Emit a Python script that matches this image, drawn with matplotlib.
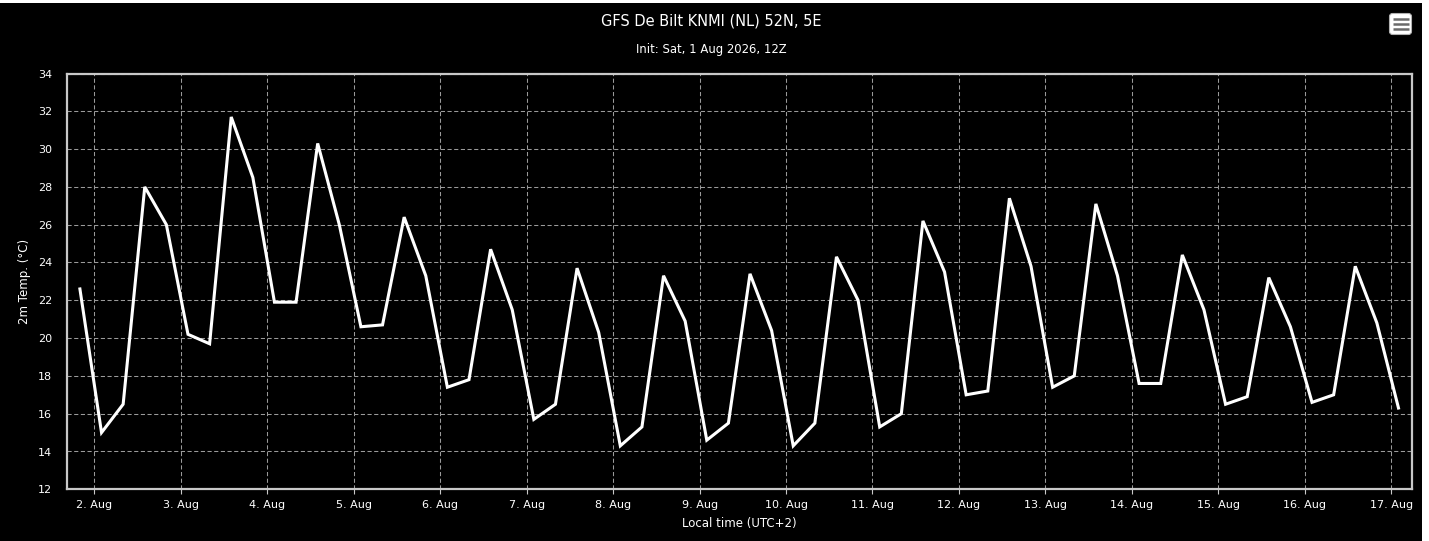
import matplotlib
matplotlib.use("Agg")
import matplotlib.pyplot as plt
import matplotlib.dates as mdates
from matplotlib.patches import Rectangle, FancyBboxPatch
from matplotlib.ticker import FuncFormatter
import numpy as np
from datetime import datetime, timedelta

title = "GFS De Bilt KNMI (NL) 52N, 5E"
subtitle = "Init: Sat, 1 Aug 2026, 12Z"
xlabel = "Local time (UTC+2)"
ylabel = "2m Temp. (°C)"

start_time = datetime(2026, 8, 1, 20, 0)
step_hours = 6
temps = [22.6, 15.0, 16.5, 28.0, 26.0, 20.2, 19.7, 31.7, 28.5, 21.9, 21.9,
         30.3, 26.0, 20.6, 20.7, 26.4, 23.3, 17.4, 17.8, 24.7, 21.5, 15.7,
         16.5, 23.7, 20.3, 14.3, 15.3, 23.3, 20.9, 14.6, 15.5, 23.4, 20.4,
         14.3, 15.5, 24.3, 22.0, 15.3, 16.0, 26.2, 23.5, 17.0, 17.2, 27.4,
         23.8, 17.4, 18.0, 27.1, 23.3, 17.6, 17.6, 24.4, 21.5, 16.5, 16.9,
         23.2, 20.6, 16.6, 17.0, 23.8, 20.8, 16.3]
times = [start_time + timedelta(hours=step_hours * i) for i in range(len(temps))]
tick_days = [datetime(2026, 8, d) for d in range(2, 18)]
yticks = list(range(12, 35, 2))

W, H = 1429, 541
fig = plt.figure(figsize=(W / 100, H / 100), dpi=100, facecolor="white")
bg = Rectangle((0, 0), 1422 / W, 538 / H, transform=fig.transFigure,
               facecolor="black", edgecolor="none", zorder=-10)
fig.patches.append(bg)

L, R, T, B = 67, 1412, 73.5, 489.3
ax = fig.add_axes([L / W, 1 - B / H, (R - L) / W, (B - T) / H])
ax.set_facecolor("black")

ax.plot(times, temps, color="white", lw=2.2, zorder=3, solid_joinstyle="miter")

ax.set_ylim(12, 34)
ax.set_yticks(yticks)
ax.set_xlim(datetime(2026, 8, 1, 16, 25), datetime(2026, 8, 17, 5, 45))
ax.set_xticks(tick_days)
ax.xaxis.set_major_formatter(FuncFormatter(
    lambda v, p: "%d. %s" % (mdates.num2date(v).day, mdates.num2date(v).strftime("%b"))))

ax.grid(True, color="#9a9a9a", lw=0.75, ls=(0, (4, 2.4)))
ax.set_axisbelow(True)
for s in ax.spines.values():
    s.set_color("#c8c8c8")
    s.set_linewidth(1.6)

ax.tick_params(axis="x", colors="white", labelsize=8, length=3.6, width=0.8,
               direction="out", pad=4, color="#c8c8c8")
ax.tick_params(axis="y", colors="white", labelsize=8, length=0, pad=10.8)

ax.set_xlabel(xlabel, color="white", fontsize=8.5, labelpad=5.5)
ax.set_ylabel(ylabel, color="white", fontsize=8.5, labelpad=5)

cx = 0.5 * (1422 / W)
fig.text(cx, 1 - 20.7 / H, title, color="white", fontsize=10.5,
         ha="center", va="center")
fig.text(cx, 1 - 49 / H, subtitle, color="white", fontsize=8.4,
         ha="center", va="center")

# menu icon, drawn in a pixel-unit inset
iax = fig.add_axes([1388 / W, 1 - 36 / H, 25 / W, 24 / H])
iax.set_xlim(1388, 1413)
iax.set_ylim(36, 12)
iax.axis("off")
iax.add_patch(FancyBboxPatch((1389.5, 13.5), 22, 21,
                             boxstyle="round,pad=0,rounding_size=3",
                             facecolor="white", edgecolor="#b0b0b0", lw=0.8))
for yy in (19, 24, 29):
    iax.plot([1393, 1409], [yy, yy], color="#6a6a6a", lw=1.8,
             solid_capstyle="butt")

fig.savefig("out.png", dpi=100, facecolor=fig.get_facecolor())
